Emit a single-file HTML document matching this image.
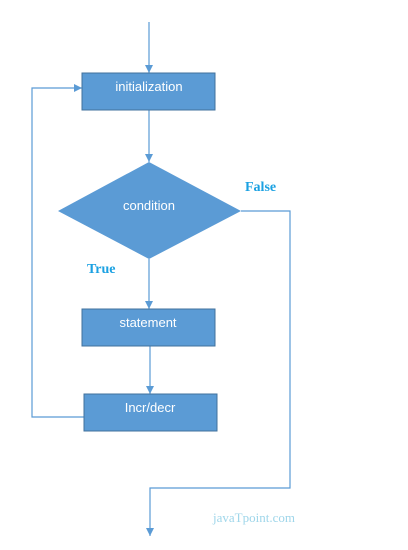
<!DOCTYPE html>
<html><head><style>body{margin:0;background:#fff}svg{display:block}</style></head><body>
<svg width="408" height="550" xmlns="http://www.w3.org/2000/svg">
<defs>
<marker id="r" markerWidth="8" markerHeight="8" refX="8" refY="4" orient="auto" markerUnits="userSpaceOnUse"><path d="M0,0 L8,4 L0,8 Z" fill="#5b9bd5"/></marker></defs>
<g stroke="#5b9bd5" stroke-width="1.2" fill="none">
<line x1="149" y1="22" x2="149" y2="73" marker-end="url(#r)"/>
<line x1="149" y1="110" x2="149" y2="162" marker-end="url(#r)"/>
<line x1="149" y1="259" x2="149" y2="309" marker-end="url(#r)"/>
<line x1="150" y1="346" x2="150" y2="394" marker-end="url(#r)"/>
<polyline points="84,417 32,417 32,88 82,88" marker-end="url(#r)"/>
<polyline points="241,211 290,211 290,488 150,488 150,536" marker-end="url(#r)"/>
</g>
<g fill="#5b9bd5" stroke="#41719c" stroke-width="1">
<rect x="82" y="73" width="133" height="37"/>
<polygon points="149,162 241,211 149,259 58,211" stroke="none"/>
<rect x="82" y="309" width="133" height="37"/>
<rect x="84" y="394" width="133" height="37"/>
</g>
<g fill="#fff" font-family="Liberation Sans, sans-serif" font-size="13" text-anchor="middle">
<text x="149" y="91">initialization</text>
<text x="149" y="210">condition</text>
<text x="148" y="327">statement</text>
<text x="150" y="412">Incr/decr</text>
</g>
<g font-family="Liberation Serif, serif" font-weight="bold" font-size="14" fill="#1ba1e2">
<text x="245" y="191">False</text>
<text x="87" y="273">True</text>
</g>
<text x="213" y="522" font-family="Liberation Serif, serif" font-size="13" fill="#9fd6ea">javaTpoint.com</text>
</svg>
</body></html>
